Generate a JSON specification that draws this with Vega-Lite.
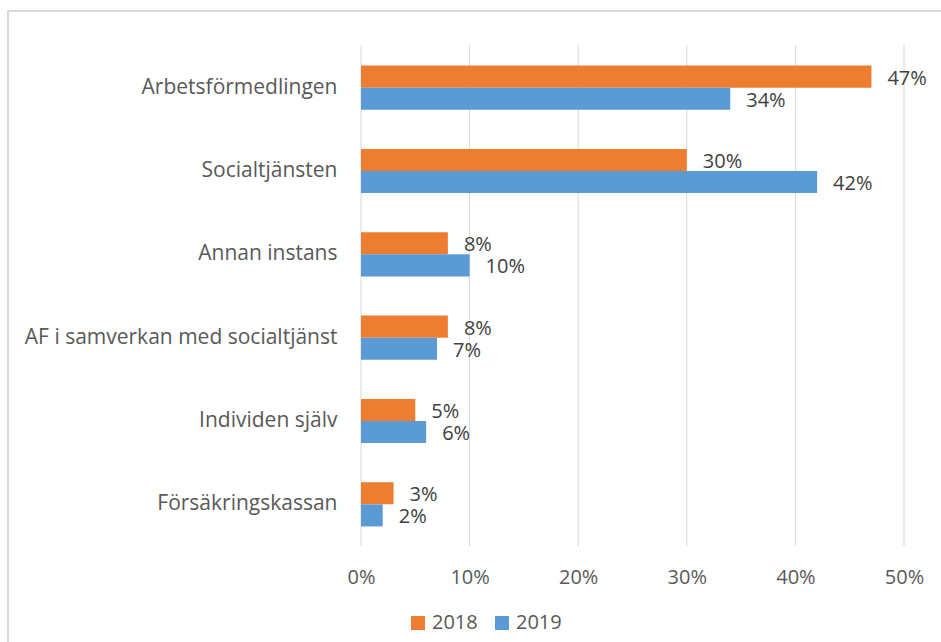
{
  "$schema": "https://vega.github.io/schema/vega-lite/v6.json",
  "width": 940,
  "height": 640,
  "autosize": "none",
  "padding": {"left": 8, "top": 11, "right": 0, "bottom": 0},
  "config": {
    "font": "Open Sans",
    "view": {"stroke": "#D9D9D9", "strokeWidth": 2}
  },
  "datasets": {
    "bars": [
      {"cat": "Arbetsförmedlingen", "year": "2018", "v": 0.47},
      {"cat": "Arbetsförmedlingen", "year": "2019", "v": 0.34},
      {"cat": "Socialtjänsten", "year": "2018", "v": 0.30},
      {"cat": "Socialtjänsten", "year": "2019", "v": 0.42},
      {"cat": "Annan instans", "year": "2018", "v": 0.08},
      {"cat": "Annan instans", "year": "2019", "v": 0.10},
      {"cat": "AF i samverkan med socialtjänst", "year": "2018", "v": 0.08},
      {"cat": "AF i samverkan med socialtjänst", "year": "2019", "v": 0.07},
      {"cat": "Individen själv", "year": "2018", "v": 0.05},
      {"cat": "Individen själv", "year": "2019", "v": 0.06},
      {"cat": "Försäkringskassan", "year": "2018", "v": 0.03},
      {"cat": "Försäkringskassan", "year": "2019", "v": 0.02}
    ],
    "ticks": [
      {"t": 0}, {"t": 0.1}, {"t": 0.2}, {"t": 0.3}, {"t": 0.4}, {"t": 0.5}
    ]
  },
  "layer": [
    {
      "data": {"name": "ticks"},
      "mark": {"type": "rule", "color": "#D9D9D9", "strokeWidth": 1},
      "encoding": {
        "x": {
          "field": "t",
          "type": "quantitative",
          "scale": {"domain": [0, 0.5], "range": [353, 896], "nice": false, "zero": true},
          "axis": {
            "title": null,
            "format": ".0%",
            "values": [0, 0.1, 0.2, 0.3, 0.4, 0.5],
            "grid": false,
            "domain": false,
            "ticks": false,
            "labelFlush": false,
            "labelFontSize": 20,
            "labelColor": "#595959",
            "labelPadding": 21,
            "offset": -105
          }
        },
        "y": {"datum": 0, "type": "quantitative", "scale": {"domain": [0, 1], "range": [34, 535], "nice": false}, "axis": null},
        "y2": {"datum": 1}
      }
    },
    {
      "data": {"name": "bars"},
      "encoding": {
        "y": {
          "field": "cat",
          "type": "nominal",
          "sort": ["Arbetsförmedlingen", "Socialtjänsten", "Annan instans", "AF i samverkan med socialtjänst", "Individen själv", "Försäkringskassan"],
          "scale": {"range": [35, 535], "paddingInner": 0.47, "paddingOuter": 0.235},
          "axis": {
            "title": null,
            "domain": false,
            "ticks": false,
            "labelFontSize": 21,
            "labelColor": "#595959",
            "labelPadding": 0,
            "labelLimit": 500,
            "offset": -329
          }
        },
        "yOffset": {"field": "year", "type": "nominal", "sort": ["2018", "2019"]},
        "x": {"field": "v", "type": "quantitative"}
      },
      "layer": [
        {
          "mark": {"type": "bar"},
          "encoding": {
            "color": {
              "field": "year",
              "type": "nominal",
              "scale": {"domain": ["2018", "2019"], "range": ["#ED7D31", "#5B9BD5"]},
              "legend": {
                "title": null,
                "orient": "none",
                "direction": "horizontal",
                "legendX": 400,
                "legendY": 602,
                "padding": 0,
                "symbolType": "square",
                "symbolSize": 196,
                "symbolStrokeWidth": 0,
                "labelFontSize": 20,
                "labelColor": "#595959",
                "labelOffset": 4,
                "columnPadding": 14
              }
            }
          }
        },
        {
          "mark": {"type": "text", "align": "left", "baseline": "middle", "dx": 16, "dy": 2, "fontSize": 20, "color": "#404040"},
          "encoding": {
            "text": {"field": "v", "type": "quantitative", "format": ".0%"}
          }
        }
      ]
    }
  ],
  "resolve": {"scale": {"y": "independent"}}
}
